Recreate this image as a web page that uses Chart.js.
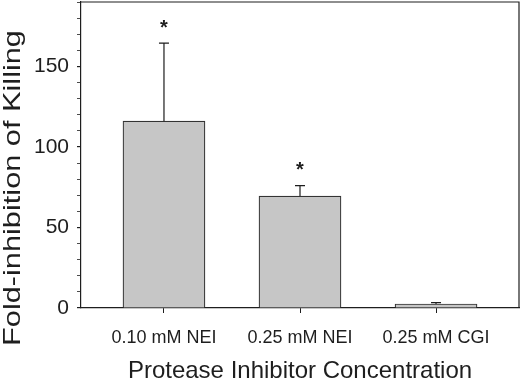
<!DOCTYPE html>
<html>
<head>
<meta charset="utf-8">
<script src="https://cdn.jsdelivr.net/npm/chart.js@4"></script>
<style>
  html, body { margin: 0; padding: 0; background: #fff; }
  canvas { display: block; }
</style>
</head>
<body>
<canvas id="chart" width="520" height="380"></canvas>
<script>
// data
const categories = ['0.10 mM NEI', '0.25 mM NEI', '0.25 mM CGI'];
const foldInhibition = [116, 69.5, 2.5];
const errorUpper = [48.5, 6.5, 0.8];
const significance = ['*', '*', ''];
const yMajorTicks = [0, 50, 100, 150];

const FONT = "'Liberation Sans', Arial, Helvetica, sans-serif";
const INK = '#1e1e1e';

// error bars, asterisks, frame and the stretched y title
const extras = {
    id: 'extras',
    afterDatasetsDraw(chart) {
        const ctx = chart.ctx;
        const x = chart.scales.x;
        const y = chart.scales.y;
        const area = chart.chartArea;
        ctx.save();
        ctx.strokeStyle = INK;
        ctx.lineWidth = 1.2;
        foldInhibition.forEach((v, i) => {
            const px = x.getPixelForValue(i);
            const y0 = y.getPixelForValue(v);
            const y1 = y.getPixelForValue(v + errorUpper[i]);
            ctx.beginPath();
            ctx.moveTo(px, y0);
            ctx.lineTo(px, y1);
            ctx.moveTo(px - 5, y1);
            ctx.lineTo(px + 5, y1);
            ctx.stroke();
            if (significance[i]) {
                ctx.fillStyle = INK;
                ctx.font = 'bold 20px ' + FONT;
                ctx.textAlign = 'center';
                ctx.textBaseline = 'middle';
                ctx.fillText(significance[i], px, y1 - 15);
            }
        });
        // frame top + right
        ctx.lineWidth = 1.2;
        ctx.beginPath();
        ctx.moveTo(area.left, area.top);
        ctx.lineTo(area.right, area.top);
        ctx.lineTo(area.right, area.bottom);
        ctx.stroke();
        ctx.restore();
    },
    afterDraw(chart) {
        const ctx = chart.ctx;
        ctx.save();
        ctx.translate(13, 188);
        ctx.rotate(-Math.PI / 2);
        ctx.scale(1.28, 1);
        ctx.fillStyle = INK;
        ctx.font = '24px ' + FONT;
        ctx.textAlign = 'center';
        ctx.textBaseline = 'middle';
        ctx.fillText('Fold-inhibition of Killing', 0, 0);
        ctx.restore();
    }
};

const ctx = document.getElementById('chart').getContext('2d');
new Chart(ctx, {
    type: 'bar',
    data: {
        datasets: [{
            data: foldInhibition.map((v, i) => ({ x: i, y: v })),
            backgroundColor: '#c6c6c6',
            borderColor: '#333',
            borderWidth: 1.2,
            barThickness: 82
        }]
    },
    options: {
        responsive: false,
        animation: false,
        devicePixelRatio: 1,
        layout: { padding: { top: 2, right: 1, left: 0, bottom: 0 } },
        plugins: {
            legend: { display: false },
            tooltip: { enabled: false }
        },
        scales: {
            x: {
                type: 'linear',
                offset: false,
                min: -0.61,
                max: 2.61,
                afterBuildTicks: s => { s.ticks = [0, 1, 2].map(v => ({ value: v })); },
                afterFit: s => { s.height = 72; s.paddingLeft = 0; s.paddingRight = 0; },
                ticks: {
                    callback: v => categories[v],
                    color: INK,
                    font: { family: FONT, size: 18 },
                    padding: 14,
                    maxRotation: 0,
                    autoSkip: false
                },
                grid: { display: true, drawOnChartArea: false, offset: false, tickLength: 5, color: INK },
                border: { display: true, color: INK, width: 1.2 },
                title: {
                    display: true,
                    text: 'Protease Inhibitor Concentration',
                    color: INK,
                    font: { family: FONT, size: 24 },
                    padding: { top: 0, bottom: -6 }
                }
            },
            y: {
                min: 0,
                max: 190,
                afterFit: s => { s.width = 81; s.paddingTop = 0; s.paddingBottom = 0; },
                ticks: {
                    stepSize: 10,
                    autoSkip: false,
                    callback: v => (yMajorTicks.includes(v) ? v : ''),
                    color: INK,
                    font: { family: FONT, size: 21 },
                    padding: 8
                },
                grid: {
                    display: true,
                    drawOnChartArea: false,
                    tickLength: 4,
                    color: INK,
                    lineWidth: c => (yMajorTicks.includes(c.tick.value) ? 1.2 : 0.8)
                },
                border: { display: true, color: INK, width: 1.2 }
            }
        }
    },
    plugins: [extras]
});
</script>
</body>
</html>
